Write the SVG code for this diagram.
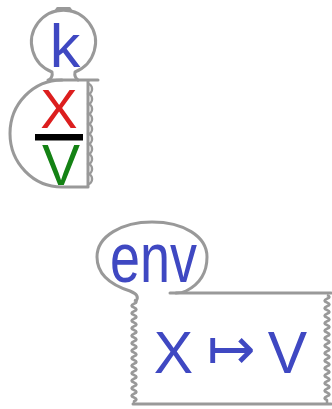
<svg xmlns="http://www.w3.org/2000/svg" width="332" height="409" viewBox="0 0 332 409">
<style>
.ln{fill:none;stroke:#999999;stroke-width:3;stroke-linecap:round;stroke-linejoin:round}
.wv{fill:none;stroke:#999999;stroke-width:2.5;stroke-linejoin:round}
.t{font-family:"Liberation Sans",Arial,sans-serif}
.blue{fill:#3f48c2}
</style>
<rect width="332" height="409" fill="#ffffff"/>
<g id="k-bubble">
<path class="ln" d="M49,80 q4,-3 3,-8 A32,32 0 1 1 75,72 q-1,5 3,8"/>
<path class="ln" d="M56,11 L57.5,8.5 H69.5 L71,11"/>
<text class="t blue" x="65" y="67" font-size="61" text-anchor="middle">k</text>
</g>
<g id="fraction-node">
<path class="ln" d="M48,80 H98"/>
<path class="ln" d="M62,80 A52,53.5 0 0 0 62,187 H88 V81"/>
<path class="wv" d="M88,84 a4,5 0 0 1 0,10 a4,5 0 0 1 0,10 a4,5 0 0 1 0,10 a4,5 0 0 1 0,10 a4,5 0 0 1 0,10 a4,5 0 0 1 0,10 a4,5 0 0 1 0,10 a4,5 0 0 1 0,10 a4,5 0 0 1 0,10 a4,5 0 0 1 0,10"/>
<text class="t" x="59" y="128" font-size="56" text-anchor="middle" fill="#dc1e1e">X</text>
<rect x="35" y="134" width="48" height="6.5" fill="#000000"/>
<text class="t" x="61" y="185" font-size="57" text-anchor="middle" fill="#148214">V</text>
</g>
<g id="env-bubble">
<path class="ln" d="M136,301 C139,297 137,294 130,291 C108,284 97,272 97,257 C97,236 122,222 152,222 C183,222 207,236 207,257 C207,272 200,284 186,291 C183,292.5 180,293 176,293"/>
<text class="t blue" transform="translate(110,282) scale(1,1.32)" x="0" y="0" font-size="54">env</text>
</g>
<g id="env-box">
<path class="ln" d="M170,293 H331"/>
<path class="ln" d="M133,404 H331"/>
<path class="wv" d="M134,300 q5,1.875 0,3.75 t0,3.75 t0,3.75 t0,3.75 t0,3.75 t0,3.75 t0,3.75 t0,3.75 t0,3.75 t0,3.75 t0,3.75 t0,3.75 t0,3.75 t0,3.75 t0,3.75 t0,3.75 t0,3.75 t0,3.75 t0,3.75 t0,3.75 t0,3.75 t0,3.75 t0,3.75 t0,3.75 t0,3.75 t0,3.75 t0,3.75 V404"/>
<path class="wv" d="M327,295 q5,1.875 0,3.75 t0,3.75 t0,3.75 t0,3.75 t0,3.75 t0,3.75 t0,3.75 t0,3.75 t0,3.75 t0,3.75 t0,3.75 t0,3.75 t0,3.75 t0,3.75 t0,3.75 t0,3.75 t0,3.75 t0,3.75 t0,3.75 t0,3.75 t0,3.75 t0,3.75 t0,3.75 t0,3.75 t0,3.75 t0,3.75 t0,3.75 t0,3.75 V404"/>
<text class="t blue" y="373" font-size="59"><tspan x="173.5" text-anchor="middle">X</tspan><tspan x="231" y="369" text-anchor="middle" font-family="'DejaVu Sans',sans-serif" font-weight="200" font-size="58">↦</tspan><tspan x="287.5" y="373" text-anchor="middle">V</tspan></text>
</g>
</svg>
